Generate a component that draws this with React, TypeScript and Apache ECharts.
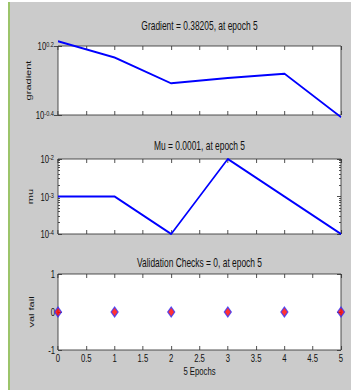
import React, { useEffect, useRef } from "react";
import * as echarts from "echarts";

const epochs = [0, 1, 2, 3, 4, 5];
const gradient = [1.74, 1.26, 0.75, 0.835, 0.91, 0.38205];
const mu = [0.001, 0.001, 0.0001, 0.01, 0.001, 0.0001];
const valFail = [0, 0, 0, 0, 0, 0];

const gradientExponents = [-0.4, 0.2];
const muExponents = [-4, -3, -2];
const muMinorTicks = [
  0.0002, 0.0003, 0.0004, 0.0005, 0.0006, 0.0007, 0.0008, 0.0009,
  0.002, 0.003, 0.004, 0.005, 0.006, 0.007, 0.008, 0.009,
];
const valFailTicks = [-1, 0, 1];
const titles = [
  "Gradient = 0.38205, at epoch 5",
  "Mu = 0.0001, at epoch 5",
  "Validation Checks = 0, at epoch 5",
];
const yNames = ["gradient", "mu", "val fail"];
const xName = "5 Epochs";

const FONT = "'Liberation Sans', Arial, sans-serif";
const AX = "#333";
const TXT = "#111";

// the reference is horizontally condensed; draw wider and squeeze with CSS
const SX = 0.702;
const CW = 500;
const CH = 390;
const X = (px: number) => px / SX;

const grids = [
  { left: X(58), top: 46, width: X(283), height: 69 },
  { left: X(58), top: 159, width: X(283), height: 75 },
  { left: X(58), top: 274, width: X(283), height: 76 },
];
const titleY = [26, 146, 263];
const yNameX = [28, 30, 31];

const expLabel = (v: number) => {
  const e = Math.round(Math.log10(v) * 10) / 10;
  return `{b|10}{s|${e}}`;
};
const rich = {
  b: { fontSize: 11, fontFamily: FONT, color: TXT, lineHeight: 11, verticalAlign: "bottom" },
  s: { fontSize: 8, fontFamily: FONT, color: TXT, lineHeight: 8, verticalAlign: "top", padding: [0, 0, 6, 0] },
};

export default function App() {
  const ref = useRef<HTMLDivElement>(null);
  useEffect(() => {
    if (!ref.current) return;
    const chart = echarts.init(ref.current, null, { renderer: "svg" });

    const xAxes: any[] = [];
    grids.forEach((_, i) => {
      ["bottom", "top"].forEach((pos) => {
        const withLabels = i === 2 && pos === "bottom";
        xAxes.push({
          type: "value",
          gridIndex: i,
          position: pos,
          min: 0,
          max: 5,
          interval: 0.5,
          axisLine: { show: false, onZero: false },
          splitLine: { show: false },
          axisTick: { inside: true, length: 4, lineStyle: { color: AX } },
          axisLabel: {
            show: withLabels,
            fontFamily: FONT,
            fontSize: 11,
            color: TXT,
            margin: 2,
          },
        });
      });
    });

    const gVals = gradientExponents.map((e) => Math.pow(10, e));
    const mVals = muExponents.map((e) => Math.pow(10, e));
    const gMin = gVals[0];
    const gMax = gVals[gVals.length - 1];
    const mMin = mVals[0];
    const mMax = mVals[mVals.length - 1];

    const yAxes: any[] = [];
    ["left", "right"].forEach((pos) => {
      yAxes.push({
        type: "log",
        logBase: 10,
        gridIndex: 0,
        position: pos,
        min: gMin,
        max: gMax,
        axisLine: { show: false },
        splitLine: { show: false },
        axisTick: { inside: true, length: X(4), customValues: gVals, lineStyle: { color: AX } },
        axisLabel: {
          show: pos === "left",
          customValues: gVals,
          formatter: expLabel,
          rich,
          margin: X(4),
        },
      });
    });
    ["left", "right"].forEach((pos) => {
      yAxes.push({
        type: "log",
        logBase: 10,
        gridIndex: 1,
        position: pos,
        min: mMin,
        max: mMax,
        axisLine: { show: false },
        splitLine: { show: false },
        axisTick: { inside: true, length: X(4), customValues: mVals, lineStyle: { color: AX } },
        axisLabel: {
          show: pos === "left",
          customValues: mVals,
          formatter: expLabel,
          rich,
          margin: X(4),
        },
      });
      yAxes.push({
        type: "log",
        logBase: 10,
        gridIndex: 1,
        position: pos,
        min: mMin,
        max: mMax,
        axisLine: { show: false },
        splitLine: { show: false },
        axisTick: { inside: true, length: X(2), customValues: muMinorTicks, lineStyle: { color: AX } },
        axisLabel: { show: false },
      });
    });
    ["left", "right"].forEach((pos) => {
      yAxes.push({
        type: "value",
        gridIndex: 2,
        position: pos,
        min: -1,
        max: 1,
        interval: 1,
        axisLine: { show: false, onZero: false },
        splitLine: { show: false },
        axisTick: { inside: true, length: X(4), lineStyle: { color: AX } },
        axisLabel: {
          show: pos === "left",
          fontFamily: FONT,
          fontSize: 11,
          color: TXT,
          margin: X(3),
          formatter: (v: number) => (valFailTicks.includes(v) ? String(v) : ""),
        },
      });
    });

    const option: any = {
      animation: false,
      backgroundColor: "#ffffff",
      grid: grids.map((g) => ({
        ...g,
        show: true,
        backgroundColor: "#ffffff",
        borderColor: AX,
        borderWidth: 1,
      })),
      xAxis: xAxes,
      yAxis: yAxes,
      graphic: [
        { type: "rect", z: -10, shape: { x: X(10), y: 2, width: CW, height: CH }, style: { fill: "#cbcbcb" } },
        { type: "rect", z: -10, shape: { x: X(8), y: 2, width: X(2), height: CH }, style: { fill: "#9cc46a" } },
        ...titles.map((t, i) => ({
          type: "text",
          x: grids[i].left + grids[i].width / 2,
          y: titleY[i],
          style: {
            text: t,
            fill: TXT,
            font: `12px ${FONT}`,
            align: "center",
            verticalAlign: "middle",
          },
        })),
        ...yNames.map((t, i) => ({
          type: "text",
          x: X(yNameX[i]),
          y: grids[i].top + grids[i].height / 2,
          rotation: Math.PI / 2,
          style: {
            text: t,
            fill: TXT,
            font: `11px ${FONT}`,
            align: "center",
            verticalAlign: "middle",
          },
        })),
        {
          type: "text",
          x: grids[2].left + grids[2].width / 2,
          y: 371,
          style: {
            text: xName,
            fill: TXT,
            font: `11px ${FONT}`,
            align: "center",
            verticalAlign: "middle",
          },
        },
      ],
      series: [
        {
          type: "line",
          xAxisIndex: 0,
          yAxisIndex: 0,
          data: epochs.map((e, i) => [e, gradient[i]]),
          showSymbol: false,
          clip: false,
          lineStyle: { color: "#0000ff", width: 2 },
        },
        {
          type: "line",
          xAxisIndex: 2,
          yAxisIndex: 2,
          data: epochs.map((e, i) => [e, mu[i]]),
          showSymbol: false,
          clip: false,
          lineStyle: { color: "#0000ff", width: 2 },
        },
        {
          type: "scatter",
          xAxisIndex: 4,
          yAxisIndex: 6,
          data: epochs.map((e, i) => [e, valFail[i]]),
          symbol: "diamond",
          symbolSize: [X(7), 10],
          clip: false,
          itemStyle: { color: "#ff0000", borderColor: "#3333ff", borderWidth: 1.5 },
        },
      ],
    };
    chart.setOption(option);
    return () => chart.dispose();
  }, []);
  return (
    <div
      ref={ref}
      style={{
        position: "absolute",
        left: 0,
        top: 0,
        width: CW,
        height: CH,
        transform: `scaleX(${SX})`,
        transformOrigin: "0 0",
      }}
    />
  );
}
